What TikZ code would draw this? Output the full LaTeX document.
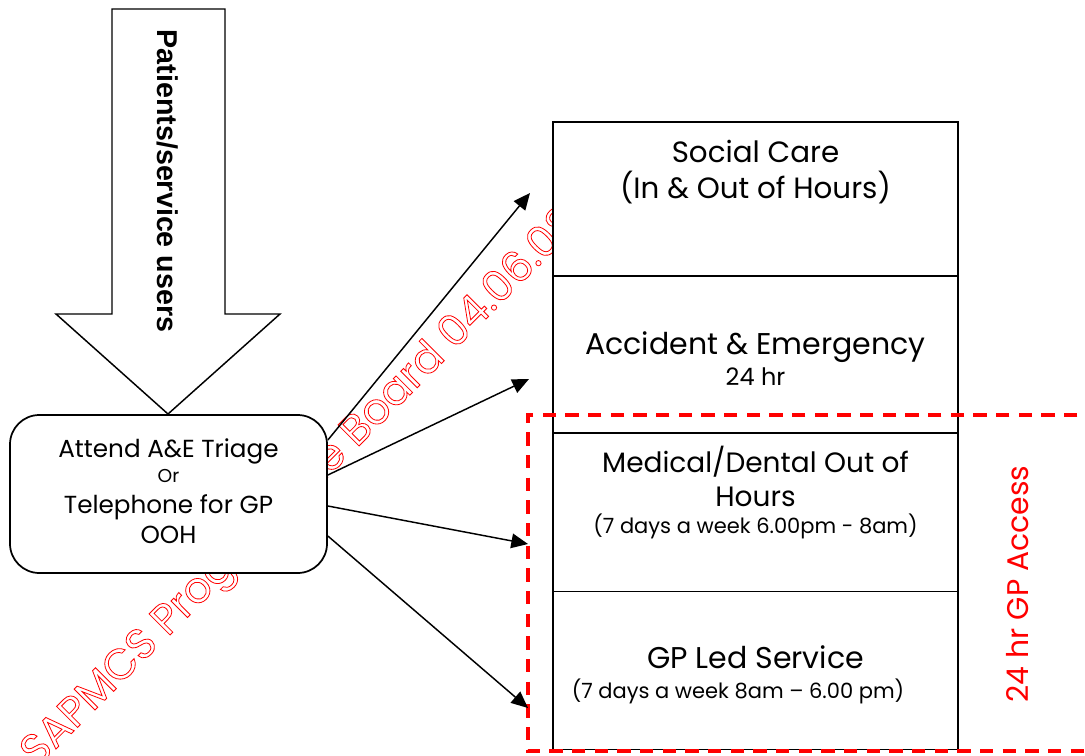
\documentclass[tikz,border=0pt]{standalone}
\usepackage{fontspec}
\setmainfont{Poppins}
\newfontfamily\arrowfont{Liberation Sans}
\usetikzlibrary{arrows.meta}
\newcommand\outlinetext[1]{\special{pdf:literal direct 1 Tr 0.6 w}#1\special{pdf:literal direct 0 Tr}}
\begin{document}
\begin{tikzpicture}[x=0.75pt,y=-0.75pt,
  svcbox/.style={draw=black, line width=1.3pt, fill=white, rectangle, minimum width=303.75pt, inner sep=0pt},
  maintext/.style={font=\fontsize{22}{26}\selectfont, inner sep=0pt, anchor=base},
  smalltext/.style={font=\fontsize{15.75}{19}\selectfont, inner sep=0pt, anchor=base},
  boxtext/.style={font=\fontsize{18.5}{22}\selectfont, inner sep=0pt, anchor=base},
  conn/.style={line width=1.1pt, -{Triangle[length=12.5pt,width=11pt]}},
  wmark/.style={text=red, font=\fontsize{32}{36}\selectfont, inner sep=0pt, anchor=base west, rotate=45},
  redframe/.style={draw=red, line width=2.3pt, dash pattern=on 10pt off 7pt}
]
\useasboundingbox (0,0) rectangle (1085,756);
\clip (0,0) rectangle (1085,756);
% watermark
\node[wmark] (wm) at (37,768) {\outlinetext{SAPMCS Programme Board 04.06.08}};
% big arrow
\draw[line width=1.1pt, fill=white, line join=miter] (112,9) -- (225,9) -- (225,314) -- (280,314) -- (168,414) -- (56,314) -- (112,314) -- cycle;
\node[font=\arrowfont\bfseries\fontsize{21.5}{24}\selectfont, rotate=-90, inner sep=0pt] (users) at (168,181) {Patients/service users};
% triage box
\node[draw=black, line width=1.3pt, fill=white, rounded corners=22pt, minimum width=237.75pt, minimum height=118.5pt, inner sep=0pt] (triage) at (168.5,494) {};
\node[boxtext] (t1) at (168.5,457) {Attend A\&E Triage};
\node[font=\fontsize{14}{16}\selectfont, inner sep=0pt, anchor=base] (t2) at (168.5,482) {Or};
\node[boxtext] (t3) at (168.5,513) {Telephone for GP};
\node[boxtext] (t4) at (168.5,543) {OOH};
% service boxes
\node[svcbox, minimum height=115.5pt] (social) at (755.5,199) {};
\node[svcbox, minimum height=117.75pt] (ae) at (755.5,354.5) {};
\node[svcbox, minimum height=118.5pt] (med) at (755.5,512.5) {};
\node[svcbox, minimum height=118.5pt] (gp) at (755.5,670.5) {};
\node[maintext] (s1) at (755.5,163) {Social Care};
\node[maintext] (s2) at (755.5,199) {(In \& Out of Hours)};
\node[maintext, font=\fontsize{22.5}{26}\selectfont] (a1) at (755.5,354) {Accident \& Emergency};
\node[smalltext, font=\fontsize{18}{21}\selectfont] (a2) at (755.5,385) {24 hr};
\node[maintext, font=\fontsize{21}{25}\selectfont] (m1) at (755.5,472) {Medical/Dental Out of};
\node[maintext, font=\fontsize{21}{25}\selectfont] (m2) at (755.5,506) {Hours};
\node[smalltext] (m3) at (755.5,533) {(7 days a week 6.00pm - 8am)};
\node[maintext, font=\fontsize{22.5}{26}\selectfont] (g1) at (755.5,668) {GP Led Service};
\node[smalltext] (g2) at (738,698) {(7 days a week 8am – 6.00 pm)};
% red dashed frame
\draw[redframe] (1100,415) -- (528,415) -- (528,751) -- (1100,751);
\node[text=red, font=\fontsize{22.4}{26}\selectfont, rotate=90, inner sep=0pt] (gp24) at (1018,584) {24 hr GP Access};
% connectors
\coordinate (e1) at (530,193);
\coordinate (e2) at (529,379);
\coordinate (e3) at (528,544);
\coordinate (e4) at (528,708);
\draw[conn] (triage.east |- 0,440) -- (e1);
\draw[conn] (triage.east |- 0,475) -- (e2);
\draw[conn] (triage.east |- 0,506) -- (e3);
\draw[conn] (triage.east |- 0,536) -- (e4);
\end{tikzpicture}
\end{document}
